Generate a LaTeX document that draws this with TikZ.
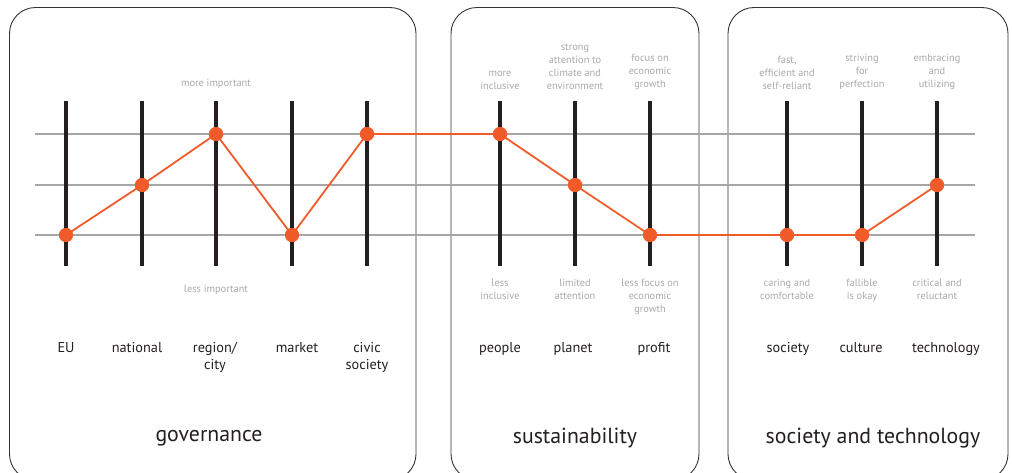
\documentclass[tikz,border=0pt]{standalone}
\usepackage{fontspec}
\setmainfont{PT Sans}
\definecolor{dotorange}{HTML}{F15A29}
\definecolor{bargray}{HTML}{231F20}
\definecolor{gridgray}{HTML}{A6A6A6}
\definecolor{lblgray}{HTML}{A7A9AC}
\definecolor{txtblack}{HTML}{231F20}
\begin{document}
\begin{tikzpicture}[x=1pt,y=-1pt,
  panel/.style={draw=black!80,line width=0.9pt,rounded corners=26pt},
  grid/.style={draw=gridgray,line width=1.3pt},
  bar/.style={draw=bargray,line width=3.6pt},
  dot/.style={circle,fill=dotorange,inner sep=0pt,minimum size=14pt},
  link/.style={draw=dotorange,line width=1.8pt},
  hint/.style={text=lblgray,font=\fontsize{10.4}{13.2}\selectfont,align=center,inner sep=0pt},
  cat/.style={text=txtblack,font=\fontsize{14.3}{17}\selectfont,align=center,inner sep=0pt,anchor=north},
  title/.style={text=txtblack,font=\fontsize{21.8}{26}\selectfont,inner sep=0pt}]
\useasboundingbox (0,0) rectangle (1012,472);
\begin{scope}
\clip (0,0) rectangle (1012,472);
\draw[panel] (9.5,7.5) rectangle (416,480);
\draw[panel] (451,7.5) rectangle (699,480);
\draw[panel] (728,7.5) rectangle (1008,480);
\end{scope}
% grid lines
\foreach \y in {134,185,235} \draw[grid] (35,\y) -- (975,\y);
% bars
\foreach \x in {66,142,216,292,367,500,575,650,787,862,937} \draw[bar] (\x,101) -- (\x,266);
% dots
\node[dot] (p1) at (66,235) {};
\node[dot] (p2) at (142,185) {};
\node[dot] (p3) at (216,134) {};
\node[dot] (p4) at (292,235) {};
\node[dot] (p5) at (367,134) {};
\node[dot] (p6) at (500,134) {};
\node[dot] (p7) at (575,185) {};
\node[dot] (p8) at (650,235) {};
\node[dot] (p9) at (787,235) {};
\node[dot] (p10) at (862,235) {};
\node[dot] (p11) at (937,185) {};
\draw[link] (p1.center) -- (p2.center) -- (p3.center) -- (p4.center) -- (p5.center) -- (p6.center) -- (p7.center) -- (p8.center) -- (p9.center) -- (p10.center) -- (p11.center);
\foreach \n in {p1,p2,p3,p4,p5,p6,p7,p8,p9,p10,p11} \fill[dotorange] (\n) circle (7pt);
% top hints
\node[hint,anchor=south] (h1) at (216,89) {more important};
\node[hint,anchor=south] (h2) at (500,90) {more\\inclusive};
\node[hint,anchor=south] (h3) at (575,90) {strong\\attention to\\climate and\\environment};
\node[hint,anchor=south] (h4) at (650,90) {focus on\\economic\\growth};
\node[hint,anchor=south] (h5) at (787,90) {fast,\\efficient and\\self-reliant};
\node[hint,anchor=south] (h6) at (862,90) {striving\\for\\perfection};
\node[hint,anchor=south] (h7) at (937,90) {embracing\\and\\utilizing};
% bottom hints
\node[hint,anchor=north] (b1) at (216,285) {less important};
\node[hint,anchor=north] (b2) at (500,279) {less\\inclusive};
\node[hint,anchor=north] (b3) at (575,279) {limited\\attention};
\node[hint,anchor=north] (b4) at (650,279) {less focus on\\economic\\growth};
\node[hint,anchor=north] (b5) at (787,279) {caring and\\comfortable};
\node[hint,anchor=north] (b6) at (862,279) {fallible\\is okay};
\node[hint,anchor=north] (b7) at (937,279) {critical and\\reluctant};
% category labels
\node[cat] (c1) at (66,342) {EU};
\node[cat] (c2) at (137,342) {national};
\node[cat] (c3) at (215,342) {region/\\city};
\node[cat] (c4) at (297,342) {market};
\node[cat] (c5) at (367,342) {civic\\society};
\node[cat] (c6) at (500,342) {people};
\node[cat] (c7) at (573,342) {planet};
\node[cat] (c8) at (654,342) {profit};
\node[cat] (c9) at (788,342) {society};
\node[cat] (c10) at (861,342) {culture};
\node[cat] (c11) at (946,342) {technology};
% titles
\node[title] (t1) at (209,438) {governance};
\node[title] (t2) at (575,438) {sustainability};
\node[title] (t3) at (873,438) {society and technology};
\end{tikzpicture}
\end{document}
